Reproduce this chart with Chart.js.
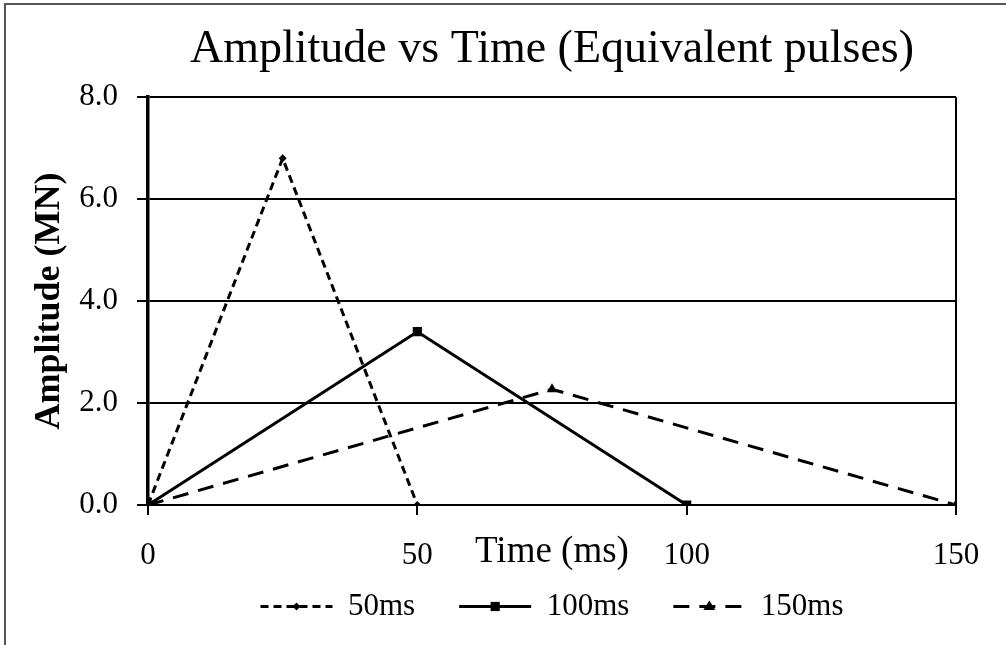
<!DOCTYPE html>
<html>
<head>
<meta charset="utf-8">
<title>Amplitude vs Time</title>
<script src="https://cdn.jsdelivr.net/npm/chart.js@4/dist/chart.umd.min.js"></script>
<style>
    html, body { margin: 0; padding: 0; background: #fff; }
    #wrap { width: 1006px; height: 645px; position: relative; }
</style>
</head>
<body>
<div id="wrap"><canvas id="pulseChart" width="1006" height="645"></canvas></div>
<script>
    // Equivalent pulses: same area, different durations
    const seriesNames = ['50ms', '100ms', '150ms'];
    const time50 = [0, 25, 50];
    const amp50 = [0, 6.8, 0];
    const time100 = [0, 50, 100];
    const amp100 = [0, 3.4, 0];
    const time150 = [0, 75, 150];
    const amp150 = [0, 2.27, 0];
    const xTicks = [0, 50, 100, 150];
    const yTicks = [0, 2, 4, 6, 8];

    const FONT = "'Liberation Serif', 'Times New Roman', serif";
    const LEGEND_BOX = 72;
    const LEGEND_LIFT = 24.5;

    function toPoints(xs, ys) {
        return xs.map((x, i) => ({ x: x, y: ys[i] }));
    }

    // line style + marker per series
    const styles = [
        { dash: [8, 5], marker: 'rectRot', radius: 4 },
        { dash: [], marker: 'rect', radius: 6.5 },
        { dash: [16, 10], marker: 'triangle', radius: 6 }
    ];

    function drawMarker(ctx, type, r, x, y) {
        ctx.save();
        ctx.fillStyle = '#000';
        ctx.beginPath();
        if (type === 'rect') {
            const s = r * Math.SQRT1_2;
            ctx.rect(x - s, y - s, 2 * s, 2 * s);
        } else if (type === 'rectRot') {
            ctx.moveTo(x - r, y);
            ctx.lineTo(x, y - r);
            ctx.lineTo(x + r, y);
            ctx.lineTo(x, y + r);
            ctx.closePath();
        } else {
            ctx.moveTo(x, y - r);
            ctx.lineTo(x + r, y + r * 0.6);
            ctx.lineTo(x - r, y + r * 0.6);
            ctx.closePath();
        }
        ctx.fill();
        ctx.restore();
    }

    // frame around the chart, x-axis title, legend markers
    const frame = {
        id: 'frame',
        afterLayout: function (chart) {
            // pull the legend row up, closer to the tick labels
            const lg = chart.legend;
            lg.top -= LEGEND_LIFT;
            lg.bottom -= LEGEND_LIFT;
        },
        beforeDraw: function (chart) {
            const ctx = chart.ctx;
            ctx.save();
            ctx.fillStyle = '#fff';
            ctx.fillRect(0, 0, chart.width, chart.height);
            ctx.strokeStyle = '#555';
            ctx.lineWidth = 2;
            ctx.beginPath();
            ctx.moveTo(5, chart.height);
            ctx.lineTo(5, 4);
            ctx.lineTo(chart.width, 4);
            ctx.stroke();
            ctx.restore();
        },
        afterDraw: function (chart) {
            const ctx = chart.ctx;
            const area = chart.chartArea;
            ctx.save();
            ctx.fillStyle = '#000';
            ctx.font = '37px ' + FONT;
            ctx.textAlign = 'center';
            ctx.textBaseline = 'middle';
            ctx.fillText('Time (ms)', (area.left + area.right) / 2, 552);
            ctx.restore();

            const boxes = chart.legend.legendHitBoxes || [];
            boxes.forEach(function (hb, i) {
                const st = styles[i];
                drawMarker(ctx, st.marker, st.radius, hb.left + LEGEND_BOX / 2, hb.top + hb.height / 2);
            });
        }
    };

    const datasets = [
        toPoints(time50, amp50),
        toPoints(time100, amp100),
        toPoints(time150, amp150)
    ].map(function (pts, i) {
        return {
            label: seriesNames[i],
            data: pts,
            borderColor: '#000',
            backgroundColor: '#000',
            borderWidth: 3,
            borderDash: styles[i].dash,
            pointStyle: styles[i].marker,
            pointRadius: styles[i].radius,
            pointBackgroundColor: '#000',
            pointBorderColor: '#000',
            pointBorderWidth: 0,
            tension: 0
        };
    });

    new Chart(document.getElementById('pulseChart'), {
        type: 'line',
        data: { datasets: datasets },
        options: {
            responsive: false,
            animation: false,
            events: [],
            layout: { padding: { left: 0, right: 50, top: 0, bottom: -11.5 } },
            scales: {
                x: {
                    type: 'linear',
                    min: xTicks[0],
                    max: xTicks[xTicks.length - 1],
                    afterBuildTicks: function (scale) {
                        scale.ticks = xTicks.map(v => ({ value: v }));
                    },
                    afterFit: function (scale) { scale.height = 66.5; },
                    ticks: {
                        color: '#000',
                        font: { family: FONT, size: 31 },
                        padding: 22,
                        maxRotation: 0,
                        callback: v => String(v)
                    },
                    grid: {
                        drawOnChartArea: true,
                        color: ctx => (ctx.tick && ctx.tick.value === 150) ? '#000' : 'rgba(0,0,0,0)',
                        tickColor: '#000',
                        tickLength: 10,
                        lineWidth: 2
                    },
                    border: { color: '#000', width: 2 }
                },
                y: {
                    min: yTicks[0],
                    max: yTicks[yTicks.length - 1],
                    afterBuildTicks: function (scale) {
                        scale.ticks = yTicks.map(v => ({ value: v }));
                    },
                    afterFit: function (scale) { scale.width = 148; },
                    ticks: {
                        color: '#000',
                        font: { family: FONT, size: 31 },
                        padding: 19,
                        callback: v => v.toFixed(1)
                    },
                    grid: {
                        color: '#000',
                        lineWidth: 2,
                        tickLength: 11
                    },
                    border: { color: '#000', width: 3.5 },
                    title: {
                        display: true,
                        text: 'Amplitude (MN)',
                        color: '#000',
                        font: { family: FONT, size: 36, weight: 'bold' },
                        padding: { top: 28, bottom: 0 }
                    }
                }
            },
            plugins: {
                title: {
                    display: true,
                    fullSize: false,
                    text: 'Amplitude vs Time (Equivalent pulses)',
                    color: '#000',
                    font: { family: FONT, size: 46, weight: 'normal' },
                    padding: { top: 22, bottom: 20 }
                },
                legend: {
                    position: 'bottom',
                    fullSize: false,
                    labels: {
                        color: '#000',
                        font: { family: FONT, size: 31 },
                        usePointStyle: true,
                        pointStyleWidth: LEGEND_BOX,
                        padding: 44,
                        generateLabels: function (chart) {
                            return chart.data.datasets.map(function (ds, i) {
                                return {
                                    text: ds.label,
                                    datasetIndex: i,
                                    pointStyle: 'line',
                                    strokeStyle: '#000',
                                    fillStyle: '#000',
                                    lineWidth: 3,
                                    lineDash: ds.borderDash,
                                    fontColor: '#000',
                                    hidden: false
                                };
                            });
                        }
                    }
                },
                tooltip: { enabled: false }
            }
        },
        plugins: [frame]
    });
</script>
</body>
</html>
